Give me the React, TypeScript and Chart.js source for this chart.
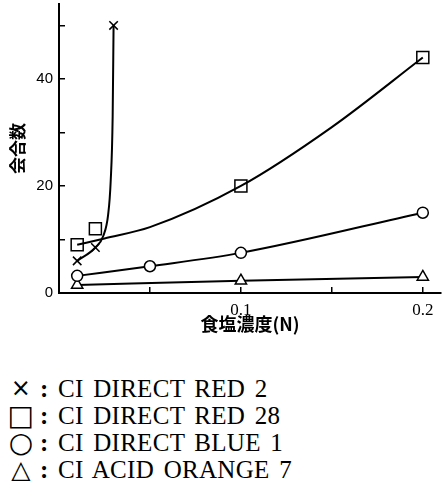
import React, { useEffect, useRef } from 'react';
import { Chart, registerables } from 'chart.js';
Chart.register(...registerables);

// marker values
const red2X = [0.01, 0.02, 0.03];
const red2Y = [6, 8.5, 50];
// points read along the drawn (fitted) curve of CI DIRECT RED 2
const red2CurveX = [0.01, 0.02, 0.0245, 0.027, 0.0284, 0.0295, 0.03];
const red2CurveY = [6, 8.5, 10.8, 14.6, 20.8, 33, 50];
const red28X = [0.01, 0.1, 0.2];
const red28Y = [9, 20, 44];
// points read along the drawn curve of CI DIRECT RED 28
const red28CurveX = [0.01, 0.025, 0.05, 0.1, 0.15, 0.2];
const red28CurveY = [9, 10.2, 12.3, 20, 31, 44];
const red28ExtraX = [0.02];
const red28ExtraY = [12];
const blue1X = [0.01, 0.05, 0.1, 0.2];
const blue1Y = [3.2, 5, 7.5, 15];
const orange7X = [0.01, 0.1, 0.2];
const orange7Y = [1.5, 2.3, 3];

const xTicks = [0.05, 0.1, 0.15, 0.2];
const xTickLabels = ['', '0.1', '', '0.2'];
const yTicks = [0, 10, 20, 30, 40, 50];
const yTickLabels = ['0', '', '20', '', '40', ''];

const xTitle = '食塩濃度(N)';
const yTitle = '会合数';

const legendSymbols = ['×', '□', '○', '△'];
const legendSymbolSizes = [24, 28, 28, 25];
const legendNames = ['CI DIRECT RED 2', 'CI DIRECT RED 28', 'CI DIRECT BLUE 1', 'CI ACID ORANGE 7'];

const pts = (xs: number[], ys: number[]) => xs.map((x, i) => ({ x, y: ys[i] }));

export default function App() {
  const ref = useRef<HTMLCanvasElement | null>(null);
  useEffect(() => {
    if (!ref.current) return;
    const common = {
      borderColor: '#000',
      backgroundColor: '#fff',
      borderWidth: 2,
      pointBorderWidth: 1.5,
      pointBorderColor: '#000',
      pointBackgroundColor: '#fff',
      cubicInterpolationMode: 'monotone' as const,
    };
    const zeroPad = (s: any) => { s.paddingTop = 0; s.paddingBottom = 0; s.paddingLeft = 0; s.paddingRight = 0; };
    const chart = new Chart(ref.current, {
      type: 'scatter',
      data: {
        datasets: [
          { ...common, label: legendNames[0] + ' curve', data: pts(red2CurveX, red2CurveY), showLine: true, pointRadius: 0 },
          { ...common, label: legendNames[1] + ' curve', data: pts(red28CurveX, red28CurveY), showLine: true, pointRadius: 0 },
          { ...common, label: legendNames[2], data: pts(blue1X, blue1Y), showLine: true, pointStyle: 'circle', pointRadius: 5.5 },
          { ...common, label: legendNames[3], data: pts(orange7X, orange7Y), showLine: true, pointStyle: 'triangle', pointRadius: 6.5 },
          { ...common, label: legendNames[0], data: pts(red2X, red2Y), showLine: false, pointStyle: 'crossRot', pointRadius: 6 },
          { ...common, label: legendNames[1], data: pts(red28X, red28Y), showLine: false, pointStyle: 'rect', pointRadius: 8.5 },
          { ...common, label: legendNames[1] + ' ', data: pts(red28ExtraX, red28ExtraY), showLine: false, pointStyle: 'rect', pointRadius: 8.5 },
        ],
      },
      options: {
        animation: false,
        responsive: false,
        maintainAspectRatio: false,
        layout: { autoPadding: false, padding: { left: 0, top: 4, right: 3, bottom: 0 } },
        plugins: { legend: { display: false }, tooltip: { enabled: false } },
        scales: {
          x: {
            type: 'linear',
            min: 0,
            max: 0.21,
            afterBuildTicks: (s: any) => { s.ticks = xTicks.map((v) => ({ value: v })); },
            afterFit: (s: any) => { s.height = 44; zeroPad(s); },
            grid: { drawOnChartArea: false, drawTicks: true, tickLength: -6, color: '#000', lineWidth: 1.5 },
            border: { color: '#000', width: 2 },
            ticks: {
              color: '#000',
              padding: 13,
              maxRotation: 0,
              autoSkip: false,
              font: { family: 'Liberation Serif', size: 17 },
              callback: (v: any) => { const i = xTicks.indexOf(Number(v)); return i >= 0 ? xTickLabels[i] : ''; },
            },
            title: { display: true, text: xTitle, color: '#000', font: { family: 'Noto Sans CJK JP', size: 18, weight: 'bold' }, padding: { top: 0, bottom: 2 } },
          },
          y: {
            type: 'linear',
            min: 0,
            max: 54,
            afterBuildTicks: (s: any) => { s.ticks = yTicks.map((v) => ({ value: v })); },
            afterFit: (s: any) => { s.width = 59; zeroPad(s); },
            grid: { drawOnChartArea: false, drawTicks: true, tickLength: -6, color: '#000', lineWidth: 1.5 },
            border: { color: '#000', width: 2 },
            ticks: {
              color: '#000',
              padding: 12,
              autoSkip: false,
              font: { family: 'Liberation Sans', size: 15 },
              callback: (v: any) => { const i = yTicks.indexOf(Number(v)); return i >= 0 ? yTickLabels[i] : ''; },
            },
            title: { display: true, text: yTitle, color: '#000', font: { family: 'Noto Sans CJK JP', size: 17, weight: 'bold' }, padding: { top: 7, bottom: 0 } },
          },
        },
      },
    });
    return () => chart.destroy();
  }, []);

  return (
    <div style={{ position: 'absolute', left: 0, top: 0, width: 444, height: 492, background: '#fff' }}>
      <canvas ref={ref} width={444} height={337} style={{ display: 'block', width: 444, height: 337 }} />
      <div style={{ position: 'absolute', left: 6, top: 375, fontFamily: '"Liberation Serif", serif', fontSize: 25, lineHeight: '27px', color: '#000', letterSpacing: 0.3, wordSpacing: 3 }}>
        {legendNames.map((n, i) => (
          <div key={i} style={{ whiteSpace: 'nowrap', height: 27 }}>
            <span style={{ display: 'inline-block', width: 30, fontFamily: '"DejaVu Sans"', fontSize: legendSymbolSizes[i], lineHeight: '27px', textAlign: 'center', verticalAlign: 'top' }}>{legendSymbols[i]}</span>
            <span style={{ display: 'inline-block', width: 22, paddingLeft: 4, boxSizing: 'border-box', textAlign: 'left', fontWeight: 'bold' }}>:</span>
            <span>{n}</span>
          </div>
        ))}
      </div>
    </div>
  );
}
